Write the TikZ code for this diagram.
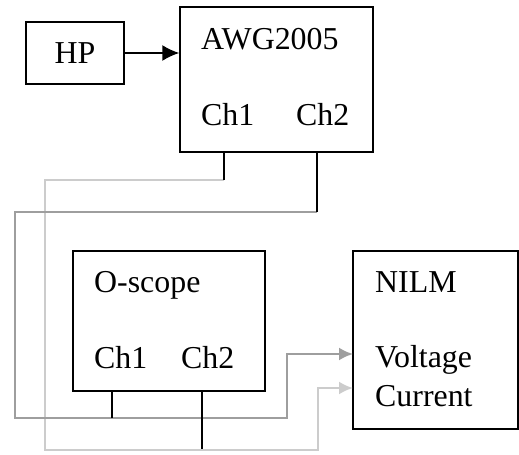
\documentclass[tikz,border=0pt]{standalone}
\usepackage{fontspec}
\setmainfont{Liberation Serif}
\usetikzlibrary{arrows.meta}
\definecolor{wireA}{gray}{0.62}
\definecolor{wireB}{gray}{0.80}
\begin{document}
\begin{tikzpicture}[x=1bp,y=-1bp,
  box/.style={draw,line width=1.5bp,inner sep=0,rectangle},
  lbl/.style={anchor=base west,inner sep=0,font=\fontsize{32}{36}\selectfont},
  stub/.style={line width=1.5bp},
  wire/.style={line width=2.2bp,line join=miter},
  gtip/.style={-{Latex[length=14bp,width=13bp]}}]
\useasboundingbox (0,0) rectangle (519,455);
% boxes
\node[box,minimum width=98bp,minimum height=62bp,font=\fontsize{32}{36}\selectfont] (hp) at (75,53) {HP};
\node[box,minimum width=193bp,minimum height=145bp] (awg) at (276.5,79.5) {};
\node[box,minimum width=192bp,minimum height=140bp] (osc) at (169,321) {};
\node[box,minimum width=165bp,minimum height=178bp] (nilm) at (435.5,340) {};
% labels
\node[lbl] (awgt) at (201,50) {AWG2005};
\node[lbl] (awg1) at (201,126) {Ch1};
\node[lbl] (awg2) at (296,126) {Ch2};
\node[lbl] (osct) at (94,292) {O-scope};
\node[lbl] (osc1) at (94,368) {Ch1};
\node[lbl] (osc2) at (181,368) {Ch2};
\node[lbl] (nilmt) at (375,292) {NILM};
\node[lbl] (volt) at (375,367) {Voltage};
\node[lbl] (curr) at (375,406) {Current};
% HP -> AWG
\draw[stub,-{Latex[length=17bp,width=16bp]}] (hp.east) -- (awg.west |- hp.east);
% coordinates for stubs
\coordinate (a1) at (224,180);
\coordinate (a2) at (317,212);
\coordinate (o1) at (112,418);
\coordinate (o2) at (202,449);
\coordinate (vin) at (353,354);
\coordinate (cin) at (353,388);
% gray wires
\draw[wire,wireB,gtip] (a1) -- (45,180) -- (45,450) -- (318,450) -- (318,388) -- (cin);
\draw[wire,wireA,gtip] (a2) -- (15,212) -- (15,418) -- (287,418) -- (287,354) -- (vin);
% black stubs
\draw[stub] (awg.south -| a1) -- (a1);
\draw[stub] (awg.south -| a2) -- (a2);
\draw[stub] (osc.south -| o1) -- (o1);
\draw[stub] (osc.south -| o2) -- (o2);
\end{tikzpicture}
\end{document}
